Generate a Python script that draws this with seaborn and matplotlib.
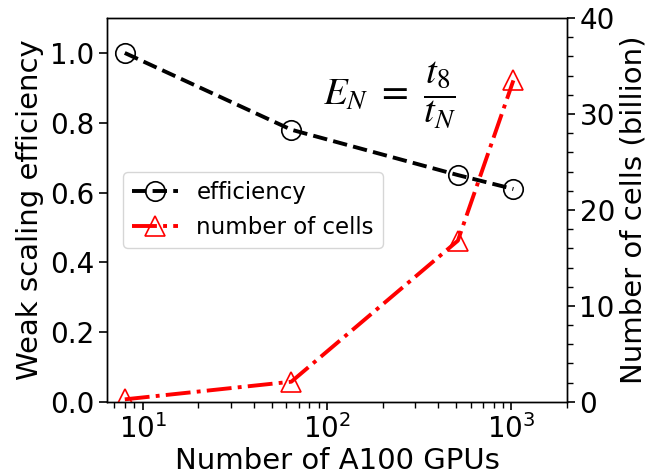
import matplotlib
matplotlib.use("Agg")
import matplotlib.pyplot as plt
import seaborn as sns
import pandas as pd
from matplotlib.ticker import MultipleLocator

gpus = [8, 64, 512, 1024]
efficiency = [1.0, 0.78, 0.65, 0.61]
cells_billion = [0.26, 2.1, 16.8, 33.5]

df = pd.DataFrame({"gpus": gpus, "efficiency": efficiency, "cells": cells_billion})

sns.set_theme(style="ticks", rc={"text.color": "black", "axes.labelcolor": "black",
                                 "xtick.color": "black", "ytick.color": "black",
                                 "axes.edgecolor": "black"})
plt.rcParams["font.family"] = ["DejaVu Sans"]
plt.rcParams["mathtext.fontset"] = "stix"

fig, ax = plt.subplots(figsize=(6.48, 4.75), dpi=100)
fig.subplots_adjust(left=0.165, right=0.875, top=0.962, bottom=0.154)
ax2 = ax.twinx()

sns.lineplot(data=df, x="gpus", y="efficiency", ax=ax, color="black", linestyle="--",
             linewidth=2.8, marker="o", markersize=14, markerfacecolor="none",
             markeredgecolor="black", markeredgewidth=1.2, label="efficiency", legend=False)
sns.lineplot(data=df, x="gpus", y="cells", ax=ax2, color="red", linestyle="-.",
             linewidth=2.8, marker="^", markersize=14, markerfacecolor="none",
             markeredgecolor="red", markeredgewidth=1.2, label="number of cells", legend=False)

ax.set_xscale("log")
ax.set_xlim(6.4, 2000)
ax.set_ylim(0, 1.1)
ax2.set_ylim(0, 40)
ax.yaxis.set_major_locator(MultipleLocator(0.2))
ax2.yaxis.set_major_locator(MultipleLocator(10))
ax2.yaxis.set_minor_locator(MultipleLocator(2))

ax.set_xlabel("Number of A100 GPUs", fontsize=21, labelpad=2)
ax.set_ylabel("Weak scaling efficiency", fontsize=21, labelpad=4)
ax2.set_ylabel("Number of cells (billion)", fontsize=21, labelpad=3)
ax.tick_params(axis="both", which="major", labelsize=20, length=6, width=1.2, pad=3)
ax.tick_params(axis="x", which="minor", length=4, width=1)
ax2.tick_params(axis="y", which="major", labelsize=20, length=6, width=1.2, pad=3)
ax2.tick_params(axis="y", which="minor", length=4, width=1)
for a in (ax, ax2):
    for s in a.spines.values():
        s.set_color("black")
        s.set_linewidth(1.0)

ax.text(0.47, 0.80, r"$E_N\ =\ \dfrac{t_8}{t_N}$", transform=ax.transAxes, fontsize=28,
        ha="left", va="center")

h1, l1 = ax.get_legend_handles_labels()
h2, l2 = ax2.get_legend_handles_labels()
ax.legend(h1 + h2, l1 + l2, loc="center left", bbox_to_anchor=(0.01, 0.5),
          fontsize=16.5, frameon=True)

fig.savefig("out.png", dpi=100)
